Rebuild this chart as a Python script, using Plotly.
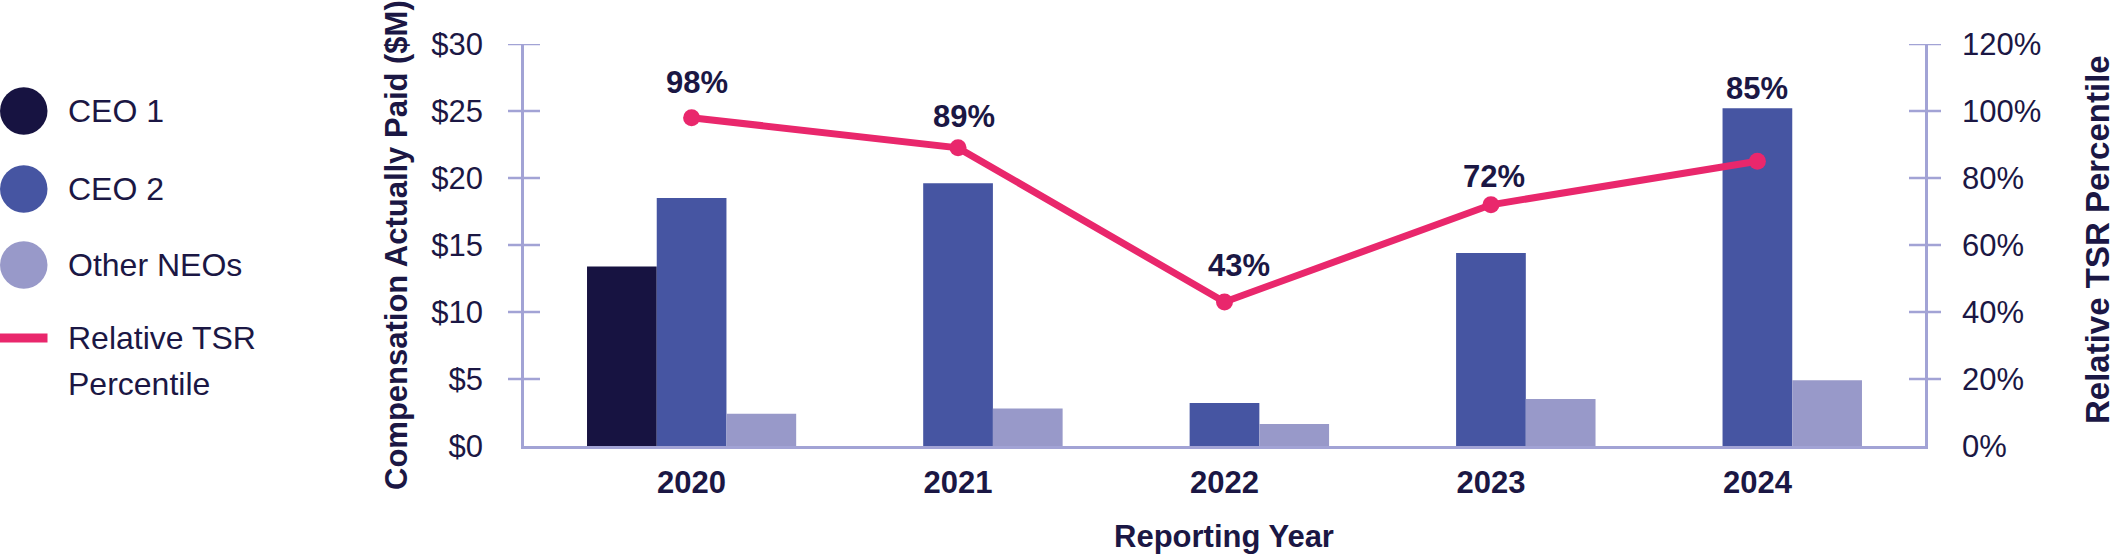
import plotly.graph_objects as go

# ---- data ----
years = ["2020", "2021", "2022", "2023", "2024"]
ceo1 = [13.4, None, None, None, None]
ceo2 = [18.5, 19.6, 3.2, 14.4, 25.2]
other_neos = [2.4, 2.8, 1.65, 3.5, 4.9]
tsr_pct = [98, 89, 43, 72, 85]
series_names = ["CEO 1", "CEO 2", "Other NEOs", "Relative TSR<br>Percentile"]
left_ticks = [0, 5, 10, 15, 20, 25, 30]
right_ticks = [0, 20, 40, 60, 80, 100, 120]

# ---- style ----
C_CEO1 = "#171341"
C_CEO2 = "#4655A2"
C_OTHER = "#9899C9"
C_TSR = "#E9276C"
C_TEXT = "#1B1744"
C_AXIS = "#A2A3D5"
FONT = "Liberation Sans, Arial, sans-serif"

W, H = 2122, 560
ML, MR, MT, MB = 524, 197, 44, 114
PW, PH = W - ML - MR, H - MT - MB


def fx(px):
    return (px - ML) / PW


def fy(py):
    return (H - MB - py) / PH


fig = go.Figure()
bar_colors = [C_CEO1, C_CEO2, C_OTHER]
for name, vals, col in zip(series_names[:3], [ceo1, ceo2, other_neos], bar_colors):
    fig.add_trace(go.Bar(x=years, y=vals, name=name, marker=dict(color=col, line=dict(width=0)),
                         showlegend=False))

fig.add_trace(go.Scatter(x=years, y=tsr_pct, yaxis="y2", mode="lines+markers",
                         line=dict(color=C_TSR, width=7), marker=dict(color=C_TSR, size=17),
                         showlegend=False, cliponaxis=False))

# data labels for TSR
label_yshift = [35, 31, 36, 28, 73]
label_xshift = [5, 6, 14, 3, 0]
for i, v in enumerate(tsr_pct):
    fig.add_annotation(x=i, xref="x", y=v, yref="y2", text=f"<b>{v}%</b>", showarrow=False,
                       xanchor="center", yanchor="middle", yshift=label_yshift[i], xshift=label_xshift[i],
                       font=dict(family=FONT, size=31, color=C_TEXT))

# crossing tick marks
shapes = []
for t in left_ticks[1:]:
    shapes.append(dict(type="line", xref="paper", yref="y", x0=fx(508), x1=fx(540), y0=t, y1=t,
                       line=dict(color=C_AXIS, width=2.5)))
for t in right_ticks[1:]:
    shapes.append(dict(type="line", xref="paper", yref="y2", x0=fx(1909), x1=fx(1941), y0=t, y1=t,
                       line=dict(color=C_AXIS, width=2.5)))

# custom legend
legend_y = [111, 189, 265]
for col, ly in zip(bar_colors, legend_y):
    shapes.append(dict(type="circle", xref="paper", yref="paper", x0=fx(0), x1=fx(47.5),
                       y0=fy(ly + 23.75), y1=fy(ly - 23.75), fillcolor=col, line=dict(width=0)))
shapes.append(dict(type="line", xref="paper", yref="paper", x0=fx(0), x1=fx(47.5),
                   y0=fy(338), y1=fy(338), line=dict(color=C_TSR, width=9)))
for name, ly in zip(series_names[:3], legend_y):
    fig.add_annotation(xref="paper", yref="paper", x=fx(66), y=fy(ly), text=name, showarrow=False,
                       xanchor="left", yanchor="middle", font=dict(family=FONT, size=32, color=C_TEXT))
for line_txt, ly in zip(series_names[3].split("<br>"), [338, 384]):
    fig.add_annotation(xref="paper", yref="paper", x=fx(66), y=fy(ly), text=line_txt, showarrow=False,
                       xanchor="left", yanchor="middle", font=dict(family=FONT, size=32, color=C_TEXT))

# axis titles
fig.add_annotation(xref="paper", yref="paper", x=fx(396), y=fy(245), text="<b>Compensation Actually Paid ($M)</b>",
                   textangle=-90, showarrow=False, xanchor="center", yanchor="middle",
                   font=dict(family=FONT, size=31, color=C_TEXT))
fig.add_annotation(xref="paper", yref="paper", x=fx(2097), y=fy(240), text="<b>Relative TSR Percentile</b>",
                   textangle=-90, showarrow=False, xanchor="center", yanchor="middle",
                   font=dict(family=FONT, size=33, color=C_TEXT))
fig.add_annotation(xref="paper", yref="paper", x=fx(1224), y=fy(536), text="<b>Reporting Year</b>",
                   showarrow=False, xanchor="center", yanchor="middle",
                   font=dict(family=FONT, size=31, color=C_TEXT))

fig.update_layout(
    width=W, height=H,
    margin=dict(l=ML, r=MR, t=MT, b=MB, pad=0),
    paper_bgcolor="white", plot_bgcolor="white",
    barmode="group", bargap=0.215, bargroupgap=0,
    shapes=shapes,
    xaxis=dict(type="category", range=[-0.629, 4.629], showgrid=False, zeroline=False,
               showline=True, linecolor=C_AXIS, linewidth=2.5, ticks="",
               tickfont=dict(family=FONT, size=31, color=C_TEXT, weight="bold"),
               ticklabelstandoff=7),
    yaxis=dict(range=[0, 30], tickvals=left_ticks, ticktext=[f"${t}" for t in left_ticks],
               showgrid=False, zeroline=False, showline=True, linecolor=C_AXIS, linewidth=2.5,
               ticks="", ticklabelstandoff=32,
               tickfont=dict(family=FONT, size=31, color=C_TEXT)),
    yaxis2=dict(range=[0, 120], tickvals=right_ticks, ticktext=[f"{t}%" for t in right_ticks],
                overlaying="y", side="right", showgrid=False, zeroline=False, showline=True,
                linecolor=C_AXIS, linewidth=2.5, ticks="", ticklabelstandoff=28,
                tickfont=dict(family=FONT, size=31, color=C_TEXT)),
)

fig.write_html("out.html", config={"displayModeBar": False},
               post_script="document.body.style.margin='0';document.body.style.overflow='hidden';")
